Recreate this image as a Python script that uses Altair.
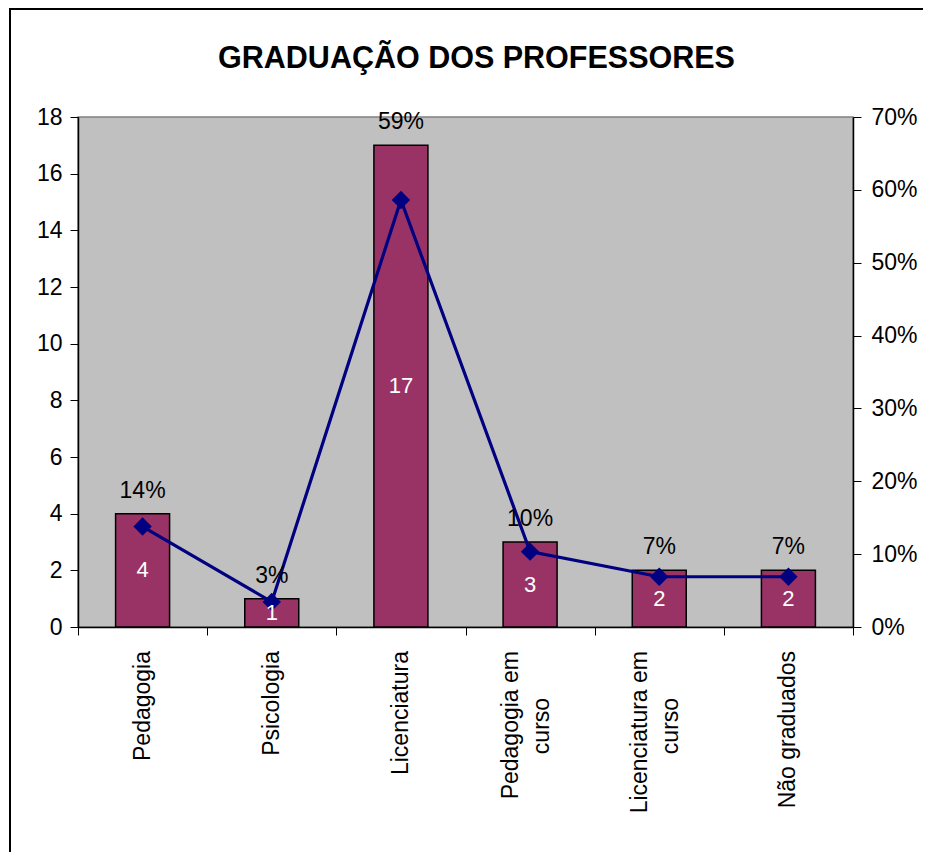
import altair as alt
import pandas as pd

# ---- data ----
categories = ["Pedagogia", "Psicologia", "Licenciatura", "Pedagogia em curso",
              "Licenciatura em curso", "Não graduados"]
label_line1 = ["Pedagogia", "Psicologia", "Licenciatura", "Pedagogia em",
               "Licenciatura em", "Não graduados"]
label_line2 = ["", "", "", "curso", "curso", ""]
counts = [4, 1, 17, 3, 2, 2]
left_ticks = [0, 2, 4, 6, 8, 10, 12, 14, 16, 18]
right_ticks = [0, 0.1, 0.2, 0.3, 0.4, 0.5, 0.6, 0.7]
title_text = "GRADUAÇÃO DOS PROFESSORES"

LEFT_MAX = 18
RIGHT_MAX = 0.7

total = sum(counts)
df = pd.DataFrame({
    "idx": list(range(len(categories))),
    "cat": categories,
    "line1": label_line1,
    "line2": label_line2,
    "count": counts,
})
df["pct"] = df["count"] / total
df["pct_in_count"] = df["pct"] * LEFT_MAX / RIGHT_MAX
df["label_top"] = df[["count", "pct_in_count"]].max(axis=1)
df["half"] = df["count"] / 2

one = pd.DataFrame({"a": [0]})

W, H = 775, 510
FONT = "Liberation Sans"
AX = dict(labelFont=FONT, labelFontSize=23, labelColor="black",
          tickColor="black", domainColor="black", domainWidth=1.5,
          tickWidth=1, tickSize=8, grid=False, title=None)

x_enc = alt.X(
    "cat:N", sort=categories,
    scale=alt.Scale(paddingInner=0, paddingOuter=0),
    axis=alt.Axis(labels=False, tickBand="extent", **AX),
)

left_scale = alt.Scale(domain=[0, LEFT_MAX])
right_scale = alt.Scale(domain=[0, RIGHT_MAX])

bars = alt.Chart(df).mark_bar(width=54, color="#993366", stroke="black",
                               strokeWidth=1.5).encode(
    x=x_enc,
    y=alt.Y("count:Q", scale=left_scale,
            axis=alt.Axis(orient="left", values=left_ticks, labelPadding=8, **AX)),
)

line = alt.Chart(df).mark_line(color="#000080", strokeWidth=3.2).encode(
    x=x_enc,
    y=alt.Y("pct:Q", scale=right_scale,
            axis=alt.Axis(orient="right", values=right_ticks, format=".0%",
                          labelPadding=10, **AX)),
    order=alt.Order("idx:Q"),
)

points = alt.Chart(df).mark_point(shape="diamond", filled=True, size=340,
                                  color="#000080", opacity=1).encode(
    x=x_enc,
    y=alt.Y("pct:Q", scale=right_scale, axis=None),
)

count_text = alt.Chart(df).mark_text(color="white", fontSize=22, font=FONT,
                                     baseline="middle").encode(
    x=x_enc,
    y=alt.Y("half:Q", scale=left_scale, axis=None),
    text="count:Q",
)

pct_text = alt.Chart(df).mark_text(color="black", fontSize=23, font=FONT,
                                   baseline="middle", dy=-23).encode(
    x=x_enc,
    y=alt.Y("label_top:Q", scale=left_scale, axis=None),
    text=alt.Text("pct:Q", format=".0%"),
)

xl_single = alt.Chart(df).transform_filter("datum.line2 == ''").mark_text(
    angle=270, align="right", baseline="middle", fontSize=23, font=FONT,
    color="black").encode(
    x=x_enc, y=alt.value(H + 24), text="line1:N")

xl_first = alt.Chart(df).transform_filter("datum.line2 != ''").mark_text(
    angle=270, align="right", baseline="middle", fontSize=23, font=FONT,
    color="black", dy=-19).encode(
    x=x_enc, y=alt.value(H + 24), text="line1:N")

xl_second = alt.Chart(df).transform_filter("datum.line2 != ''").mark_text(
    angle=270, align="center", baseline="middle", fontSize=23, font=FONT,
    color="black", dy=12).encode(
    x=x_enc, y=alt.value(H + 99), text="line2:N")

border = alt.Chart(one).mark_rect(fillOpacity=0, stroke="black", strokeWidth=2).encode(
    x=alt.value(-68), x2=alt.value(W + 300),
    y=alt.value(-108), y2=alt.value(H + 400))

title = alt.Chart(one).mark_text(fontSize=30.5, fontWeight="bold", font=FONT,
                                 align="center", baseline="alphabetic",
                                 color="black").encode(
    x=alt.value(398.5), y=alt.value(-49), text=alt.value(title_text))

chart = alt.layer(
    border, bars, line, points, count_text, pct_text,
    xl_single, xl_first, xl_second, title
).resolve_scale(y="independent").properties(
    width=W, height=H,
    autosize=alt.AutoSizeParams(type="none"),
    padding={"left": 70, "top": 109, "right": 70, "bottom": 225},
).configure(
    background="white"
).configure_view(
    stroke="#808080", strokeWidth=1.5, fill="#C0C0C0"
)

chart.save("out.html", embed_options={"renderer": "svg", "actions": False})
